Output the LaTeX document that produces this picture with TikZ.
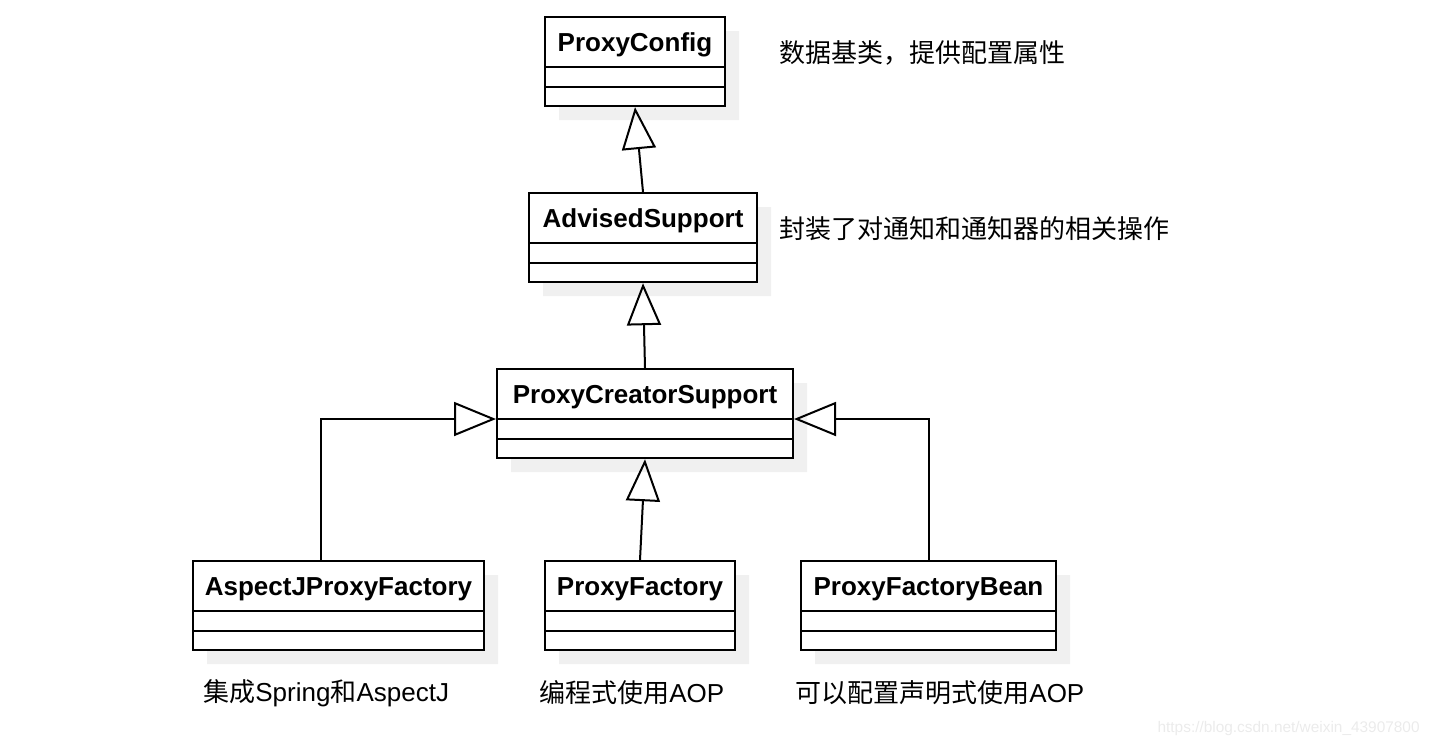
\documentclass[tikz,border=0pt]{standalone}
\usepackage{fontspec}
\setmainfont{Liberation Sans}
\newfontfamily\cjk{Noto Sans CJK SC}
\usetikzlibrary{shapes.multipart,shadows,arrows.meta}

\begin{document}
\begin{tikzpicture}[x=0.5pt,y=-0.5pt,
  cls/.style={rectangle split, rectangle split parts=3, draw, line width=1pt, fill=white,
    inner xsep=0pt, inner ysep=0pt,
    rectangle split empty part height=8.8pt, rectangle split empty part depth=0pt,
    font=\fontsize{13}{15}\selectfont\bfseries, anchor=north,
    drop shadow={shadow xshift=7pt, shadow yshift=-7pt, fill=black!6, opacity=1}},
  note/.style={anchor=west, inner sep=0pt, font=\fontsize{13}{15}\selectfont},
  inherit/.style={line width=1pt, -{Triangle[open, length=21pt, width=17pt]}}]
  \useasboundingbox (0,0) rectangle (1430,746);

  % classes
  \node[cls, minimum width=90pt] (pc) at (635,16) {\rule[-7.5pt]{0pt}{24pt}ProxyConfig};
  \node[cls, minimum width=114pt] (as) at (643,192) {\rule[-7.5pt]{0pt}{24pt}AdvisedSupport};
  \node[cls, minimum width=148pt] (pcs) at (645,368) {\rule[-7.5pt]{0pt}{24pt}ProxyCreatorSupport};
  \node[cls, minimum width=145.5pt] (ajpf) at (338.5,560) {\rule[-7.5pt]{0pt}{24pt}AspectJProxyFactory};
  \node[cls, minimum width=95pt] (pf) at (640,560) {\rule[-7.5pt]{0pt}{24pt}ProxyFactory};
  \node[cls, minimum width=127.5pt] (pfb) at (928.5,560) {\rule[-7.5pt]{0pt}{24pt}ProxyFactoryBean};

  % notes
  \node[note] (pcnote) at (779,53) {\cjk 数据基类，提供配置属性};
  \node[note] (asnote) at (779,229) {\cjk 封装了对通知和通知器的相关操作};
  \node[note] (ajpfnote) at (203,693) {{\cjk 集成}Spring{\cjk 和}AspectJ};
  \node[note] (pfnote) at (539,693) {{\cjk 编程式使用}AOP};
  \node[note] (pfbnote) at (795,693) {{\cjk 可以配置声明式使用}AOP};
  \node[anchor=east, inner sep=0pt, text=black!8, font=\fontsize{7.7}{9}\selectfont] (wm) at (1420,729) {https://blog.csdn.net/weixin\_43907800};

  % generalisation
  \draw[inherit] (as.north) -- (pc.south);
  \draw[inherit] (pcs.north) -- (as.south);
  \draw[inherit] (pf.north) -- (pcs.south);
  \draw[inherit] ([xshift=-8.75pt]ajpf.north) |- (pcs.text split west);
  \draw[inherit] (pfb.north) |- (pcs.text split east);
\end{tikzpicture}
\end{document}
